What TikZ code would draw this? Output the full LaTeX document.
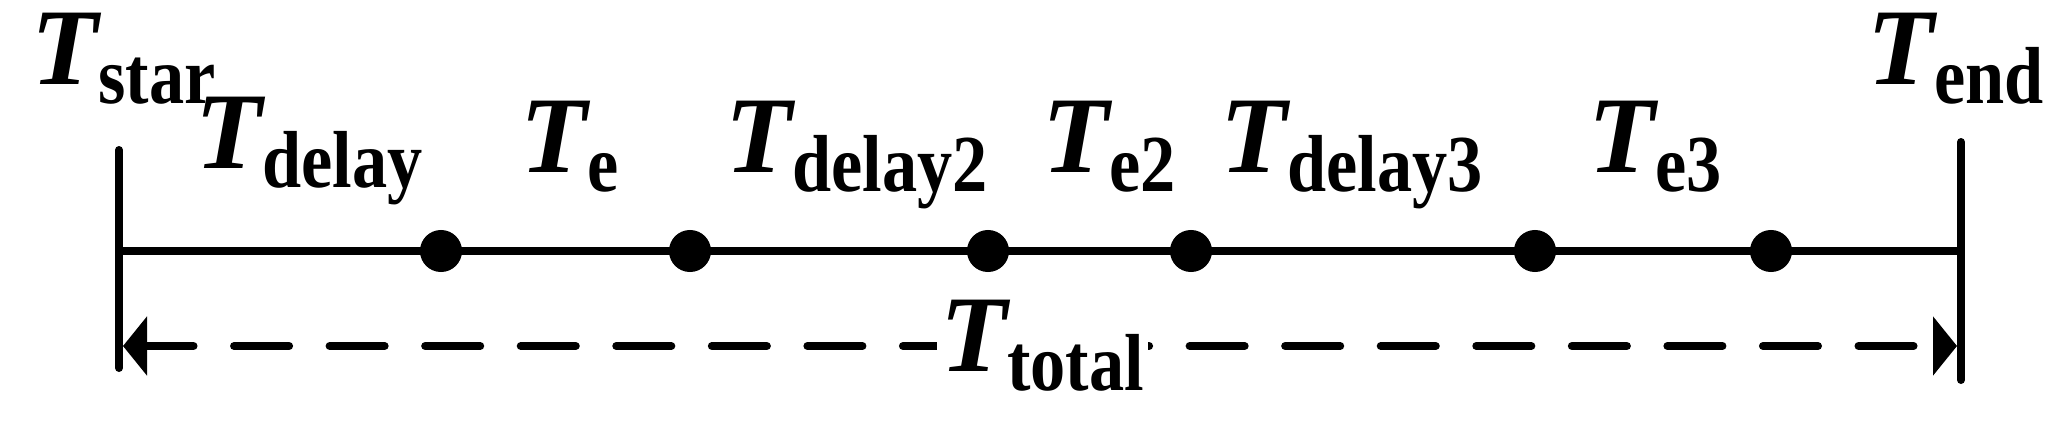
\documentclass[tikz,border=0pt]{standalone}
\usepackage{graphicx}
\usepackage{fontspec}
\setmainfont{Liberation Serif}
\usetikzlibrary{arrows.meta}
\newcommand{\tlab}[1]{{\bfseries\fontsize{31}{31}\selectfont\itshape T\raisebox{-0.19cm}{\scalebox{1}[1.15]{\fontsize{20}{20}\selectfont\upshape #1}}}}
\tikzset{
	timedot/.style={circle, fill=black, inner sep=0pt, minimum size=0.42cm},
	thickline/.style={line width=0.08cm, line cap=round},
	lbl/.style={anchor=base west, inner sep=0pt},
}

\begin{document}
\begin{tikzpicture}[x=0.01cm, y=-0.01cm]
			%%%%% START %%%%%
			\useasboundingbox (0, 0) rectangle (2057, 421);
			
			\coordinate (stt) at (119, 150);
			\coordinate (stb) at (119, 368);
			\coordinate (sm) at (119, 251);
			\coordinate (ent) at (1961, 142);
			\coordinate (enb) at (1961, 380);
			\coordinate (em) at (1961, 251);
			\coordinate (sa) at (123, 346);
			\coordinate (ea) at (1957, 346);
			
			\draw[thickline] (stt) -- (stb);
			\draw[thickline] (ent) -- (enb);
			\draw[line width=0.08cm] (sm) -- (em);
			
			\node[timedot] (d1) at (441, 251) {};
			\node[timedot] (d2) at (690, 251) {};
			\node[timedot] (d3) at (988, 251) {};
			\node[timedot] (d4) at (1191, 251) {};
			\node[timedot] (d5) at (1535, 251) {};
			\node[timedot] (d6) at (1771, 251) {};
			
			\draw[thickline, dash pattern=on 0.55cm off 0.405cm, dash phase=0.07cm,
				{Triangle[length=0.24cm, width=0.58cm]}-{Triangle[length=0.24cm, width=0.58cm]}] (sa) -- (ea);
			
			\node[lbl] (tstar) at (31, 84) {\tlab{star}};
			\node[lbl] (tdelay) at (195, 168) {\tlab{delay}};
			\node[lbl] (te) at (520, 172) {\tlab{e}};
			\node[lbl] (tdelay2) at (725, 172) {\tlab{delay2}};
			\node[lbl] (te2) at (1042, 172) {\tlab{e2}};
			\node[lbl] (tdelay3) at (1220, 172) {\tlab{delay3}};
			\node[lbl] (te3) at (1588, 172) {\tlab{e3}};
			\node[lbl] (tend) at (1867, 84) {\tlab{end}};
			
			\node[lbl, fill=white, inner xsep=0.04cm] (ttotal) at (936, 371) {\tlab{total}};
			%%%%% END %%%%%
\end{tikzpicture}
\end{document}
